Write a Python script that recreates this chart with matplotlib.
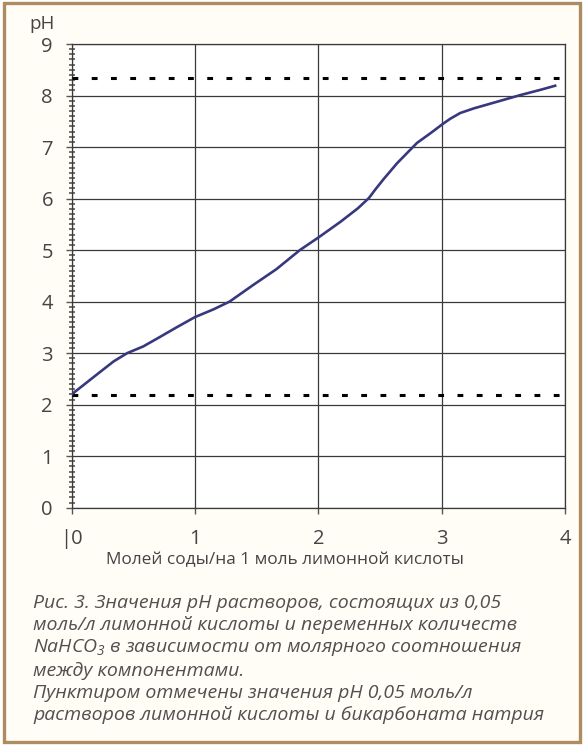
import matplotlib
matplotlib.use("Agg")
import matplotlib.pyplot as plt
from matplotlib.patches import Rectangle
from matplotlib.ticker import MultipleLocator

plt.rcParams['font.family'] = ['Open Sans', 'DejaVu Sans']
plt.rcParams['mathtext.default'] = 'regular'

# data
soda_mol = [0.0, 0.18, 0.34, 0.45, 0.58, 0.72, 0.85, 1.0, 1.15, 1.28, 1.47,
            1.66, 1.85, 2.01, 2.18, 2.32, 2.41, 2.46, 2.53, 2.64, 2.80, 2.91,
            3.01, 3.07, 3.15, 3.26, 3.45, 3.64, 3.80, 3.92]
ph_values = [2.2, 2.54, 2.84, 3.0, 3.13, 3.32, 3.50, 3.70, 3.85, 4.00, 4.32,
             4.63, 5.0, 5.26, 5.55, 5.81, 6.01, 6.17, 6.38, 6.69, 7.08, 7.27,
             7.45, 7.55, 7.66, 7.75, 7.88, 8.01, 8.11, 8.19]
ph_citric = 2.19
ph_bicarb = 8.34
x_ticks = [0, 1, 2, 3, 4]
x_tick_labels = ['|0', '1', '2', '3', '4']
y_ticks = list(range(0, 10))

caption = [
    "Рис. 3. Значения pH растворов, состоящих из 0,05",
    "моль/л лимонной кислоты и переменных количеств",
    "NaHCO$_3$ в зависимости от молярного соотношения",
    "между компонентами.",
    "Пунктиром отмечены значения pH 0,05 моль/л",
    "растворов лимонной кислоты и бикарбоната натрия",
]

W, H = 586, 750
fig = plt.figure(figsize=(W / 100, H / 100), dpi=100)
fig.patch.set_facecolor('white')

# cream card with brown frame
fig.patches.append(Rectangle((4 / W, 1 - 742 / H), 576 / W, 739 / H,
                             transform=fig.transFigure, fc='#fffdf5',
                             ec='#ae8c62', lw=2.4, zorder=-5))

ax = fig.add_axes([71.7 / W, 1 - 507.7 / H, (565 - 71.7) / W, (507.7 - 44) / H])
ax.set_zorder(2)
ax.set_facecolor('white')

ax.plot(soda_mol, ph_values, color='#383880', lw=1.9, zorder=4)
ax.plot([0, 3.96], [ph_bicarb, ph_bicarb], color='black', lw=2.2,
        linestyle=(0, (1.9, 4.4)), zorder=3)
ax.plot([0, 3.96], [ph_citric, ph_citric], color='black', lw=2.2,
        linestyle=(0, (1.9, 4.4)), zorder=3)

ax.set_xlim(0, 4)
ax.set_ylim(0, 9)
ax.set_xticks(x_ticks)
ax.set_xticklabels(x_tick_labels)
ax.set_yticks(y_ticks)
ax.yaxis.set_minor_locator(MultipleLocator(0.1))
ax.grid(True, color='#3a3a3a', lw=0.9)
ax.set_axisbelow(True)

for s in ax.spines.values():
    s.set_color('#3a3a3a')
    s.set_linewidth(0.9)

ax.tick_params(axis='both', which='major', direction='out', length=4.5,
               width=1.0, color='#555555', labelsize=14.5, labelcolor='#444444')
ax.tick_params(axis='y', which='major', pad=9)
ax.tick_params(axis='x', which='major', pad=11)
ax.tick_params(axis='y', which='minor', direction='inout', length=4,
               width=1.2, color='#555555')

fig.text(42 / W, 1 - 24 / H, "pH", ha='center', va='center',
         fontsize=13.5, color='#444444')
fig.text(285 / W, 1 - 560 / H, "Молей соды/на 1 моль лимонной кислоты",
         ha='center', va='center', fontsize=12.4, color='#444444')

for i, line in enumerate(caption):
    fig.text(33 / W, 1 - (603 + i * 22.5) / H, line, ha='left', va='center',
             fontsize=14.0, style='italic', color='#505050')

fig.savefig("out.png", dpi=100)
